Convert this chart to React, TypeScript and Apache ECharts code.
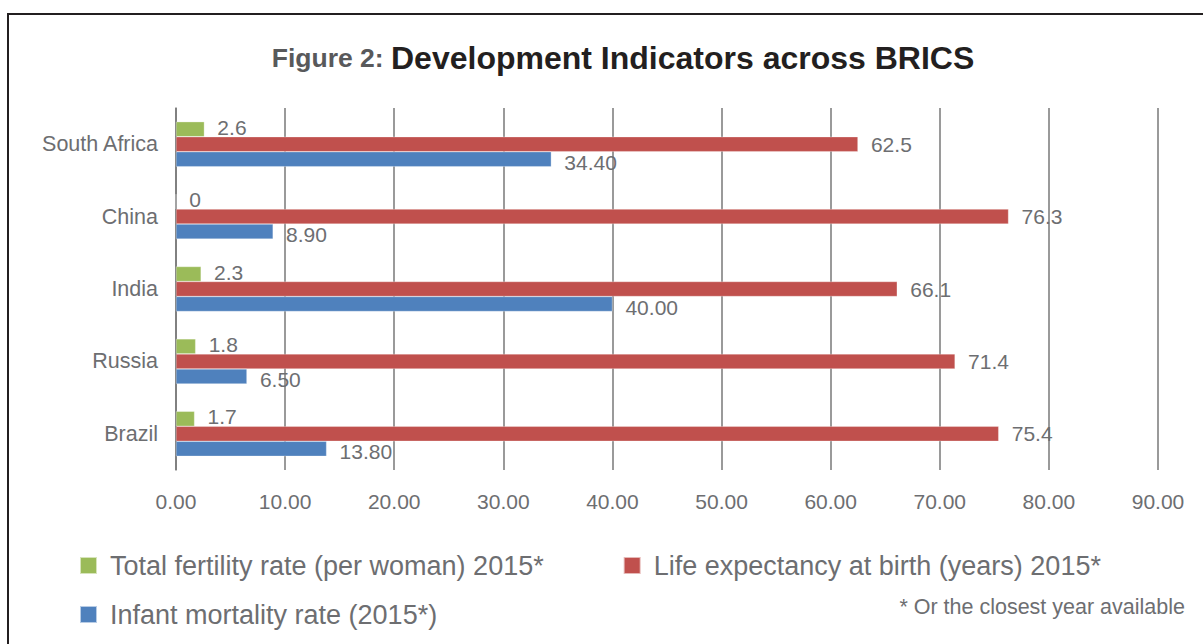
import React, { useEffect, useRef } from "react";
import * as echarts from "echarts";

const categories = ["Brazil", "Russia", "India", "China", "South Africa"];
const fertility = [1.7, 1.8, 2.3, 0, 2.6];
const lifeExpectancy = [75.4, 71.4, 66.1, 76.3, 62.5];
const infantMortality = [13.8, 6.5, 40.0, 8.9, 34.4];
const seriesNames = [
  "Total fertility rate (per woman) 2015*",
  "Life expectancy at birth (years) 2015*",
  "Infant mortality rate (2015*)",
];
const titlePrefix = "Figure 2: ";
const titleMain = "Development Indicators across BRICS";
const footnote = "* Or the closest year available";

const FONT = "'Liberation Sans', Arial, Helvetica, sans-serif";
const GRAY = "#6d6e71";

export default function App() {
  const ref = useRef<HTMLDivElement>(null);
  useEffect(() => {
    if (!ref.current) return;
    const chart = echarts.init(ref.current, undefined, { renderer: "svg" });
    const labelBase = {
      show: true,
      position: "right",
      distance: 13,
      color: GRAY,
      fontSize: 21,
      fontFamily: FONT,
    };
    const legendText = {
      fontSize: 27,
      color: GRAY,
      fontFamily: FONT,
      padding: [0, 0, 0, 8],
    };
    chart.setOption({
      animation: false,
      backgroundColor: "#ffffff",
      title: {
        text: "{a|" + titlePrefix + "}{b|" + titleMain + "}",
        left: 618,
        textAlign: "center",
        top: 37,
        textStyle: {
          rich: {
            a: { fontSize: 26.5, fontWeight: "bold", color: "#58595b", fontFamily: FONT },
            b: { fontSize: 32, fontWeight: "bold", color: "#231f20", fontFamily: FONT },
          },
        },
      },
      grid: { left: 176, right: 45, top: 108, bottom: 174, containLabel: false },
      legend: [
        {
          data: [seriesNames[0], seriesNames[1]],
          left: 79,
          top: 552,
          padding: 0,
          icon: "rect",
          itemWidth: 17,
          itemHeight: 17,
          itemGap: 79,
          textStyle: legendText,
        },
        {
          data: [seriesNames[2]],
          left: 79,
          top: 601,
          padding: 0,
          icon: "rect",
          itemWidth: 17,
          itemHeight: 17,
          textStyle: legendText,
        },
      ],
      xAxis: {
        type: "value",
        min: 0,
        max: 90,
        interval: 10,
        axisLine: { show: false },
        axisTick: { show: false },
        axisLabel: {
          formatter: (v: number) => v.toFixed(2),
          color: GRAY,
          fontSize: 21,
          fontFamily: FONT,
          margin: 21,
        },
        splitLine: { show: true, lineStyle: { color: "#787878", width: 1.5 } },
      },
      yAxis: {
        type: "category",
        data: categories,
        axisLine: { show: true, lineStyle: { color: "#787878", width: 1.5 } },
        axisTick: { show: false },
        axisLabel: { color: GRAY, fontSize: 21.5, fontFamily: FONT, margin: 18 },
      },
      series: [
        {
          name: seriesNames[0],
          type: "bar",
          data: fertility,
          barWidth: 15,
          barGap: "0%",
          itemStyle: { color: "#9bbb59", borderColor: "rgba(255,255,255,0.6)", borderWidth: 0.5 },
          label: {
            ...labelBase,
            offset: [0, -2],
            formatter: (p: any) => (p.value === 0 ? "0" : p.value.toFixed(1)),
          },
        },
        {
          name: seriesNames[1],
          type: "bar",
          data: lifeExpectancy,
          barWidth: 15,
          barGap: "0%",
          itemStyle: { color: "#c0504d", borderColor: "rgba(255,255,255,0.6)", borderWidth: 0.5 },
          label: { ...labelBase, formatter: (p: any) => p.value.toFixed(1) },
        },
        {
          name: seriesNames[2],
          type: "bar",
          data: infantMortality,
          barWidth: 15,
          barGap: "0%",
          itemStyle: { color: "#4f81bd", borderColor: "rgba(255,255,255,0.6)", borderWidth: 0.5 },
          label: {
            ...labelBase,
            offset: [0, 3],
            formatter: (p: any) => p.value.toFixed(2),
          },
        },
      ],
      graphic: [
        {
          type: "rect",
          shape: { x: 8, y: 14, width: 1400, height: 900 },
          style: { fill: "none", stroke: "#231f20", lineWidth: 2 },
          silent: true,
        },
        {
          type: "text",
          x: 1185,
          y: 607,
          style: {
            text: footnote,
            fontSize: 21.5,
            fontFamily: FONT,
            fill: GRAY,
            textAlign: "right",
            textVerticalAlign: "middle",
          },
        },
      ],
    });
    return () => chart.dispose();
  }, []);
  return (
    <div
      ref={ref}
      style={{ position: "absolute", left: 0, top: 0, width: 1203, height: 644 }}
    />
  );
}
